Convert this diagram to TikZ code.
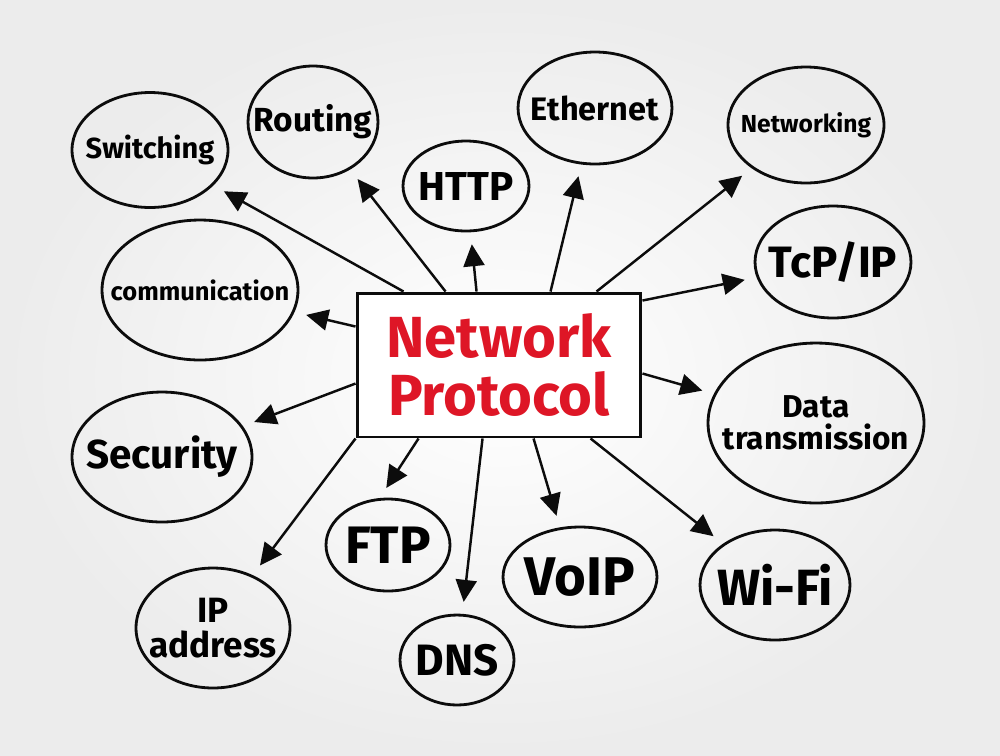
\documentclass[tikz,border=0pt]{standalone}
\usepackage{fontspec}
\setmainfont{Fira Sans}
\usetikzlibrary{shapes.geometric, arrows.meta, positioning, calc}
\definecolor{netred}{RGB}{222, 22, 38}
\definecolor{inkblack}{RGB}{12, 12, 12}
\tikzset{
  bubble/.style={draw=inkblack, ellipse, line width=1.6pt, inner sep=0pt},
  tag/.style={align=center, inner sep=0pt, font=\bfseries\fontsize{#1}{#1}\selectfont},
  arr/.style={draw=inkblack, line width=1.4pt, -{Triangle[length=0.44cm, width=0.42cm]}, shorten >=0.24cm}
}

\begin{document}
\begin{tikzpicture}[x=0.02cm, y=-0.02cm]
  % background
  \useasboundingbox (0,0) rectangle (1000,755);
  \shade[inner color=white, outer color=gray!15] (0,0) rectangle (1000,755);

  % central topic
  \node[draw=inkblack, fill=white, line width=1.7pt, minimum width=5.68cm, minimum height=2.88cm, inner sep=0pt,
        align=center, text=netred, font=\bfseries\fontsize{33}{33}\selectfont] (hub) at (499,365) {Network\\Protocol};

  % satellites (text set as a centred label so it does not stretch the ellipse)
  \node[bubble, minimum width=3.12cm, minimum height=2.3cm, label={[tag=16.5]center:Switching}] (sw) at (150,150) {};
  \node[bubble, minimum width=2.6cm, minimum height=2.24cm, label={[tag=19]center:Routing}] (rt) at (313,122) {};
  \node[bubble, minimum width=2.52cm, minimum height=1.8cm, label={[tag=23]center:HTTP}] (http) at (466,186) {};
  \node[bubble, minimum width=3.08cm, minimum height=2.24cm, label={[tag=18.5]center:Ethernet}] (eth) at (595,108) {};
  \node[bubble, minimum width=3.12cm, minimum height=2.32cm, label={[tag=14]center:Networking}] (netw) at (806,125) {};
  \node[bubble, minimum width=3.12cm, minimum height=2.24cm, label={[tag=25]center:TcP/IP}] (tcp) at (833,262) {};
  \node[bubble, minimum width=3.92cm, minimum height=2.8cm, label={[tag=14.5]center:communication}] (comm) at (200,290) {};
  \node[bubble, minimum width=4.32cm, minimum height=3.2cm, label={[tag=18]center:{Data\\transmission}}] (data) at (816,423) {};
  \node[bubble, minimum width=3.6cm, minimum height=2.6cm, label={[tag=23]center:Security}] (sec) at (162,457) {};
  \node[bubble, minimum width=2.48cm, minimum height=1.84cm, label={[tag=30]center:FTP}] (ftp) at (388,545) {};
  \node[bubble, minimum width=3.08cm, minimum height=2.0cm, label={[tag=31]center:VoIP}] (voip) at (580,577) {};
  \node[bubble, minimum width=3.0cm, minimum height=2.2cm, label={[tag=29]center:Wi-Fi}] (wifi) at (775,585) {};
  \node[bubble, minimum width=3.08cm, minimum height=2.4cm, label={[tag=20]center:{IP\\address}}] (ip) at (213,628) {};
  \node[bubble, minimum width=2.28cm, minimum height=1.8cm, label={[tag=25]center:DNS}] (dns) at (457,660) {};

  % connectors
  \draw[arr] ($(hub.north west)+(48,0)$) -- (sw);
  \draw[arr] ($(hub.north west)+(90,0)$) -- (rt);
  \draw[arr] ($(hub.north west)+(121,0)$) -- (http);
  \draw[arr] ($(hub.north west)+(195,0)$) -- (eth);
  \draw[arr] ($(hub.north west)+(241,0)$) -- (netw);
  \draw[arr] ($(hub.north east)+(0,9)$) -- (tcp);
  \draw[arr] ($(hub.north west)+(0,35)$) -- (comm);
  \draw[arr] ($(hub.north east)+(0,82)$) -- (data);
  \draw[arr] ($(hub.north west)+(0,92)$) -- (sec);
  \draw[arr] (hub.south west) -- (ip);
  \draw[arr] ($(hub.south west)+(63,0)$) -- (ftp.100);
  \draw[arr] ($(hub.south west)+(127,0)$) -- (dns);
  \draw[arr] ($(hub.south west)+(178,0)$) -- (voip.112);
  \draw[arr] ($(hub.south west)+(235,0)$) -- (wifi);
\end{tikzpicture}
\end{document}
